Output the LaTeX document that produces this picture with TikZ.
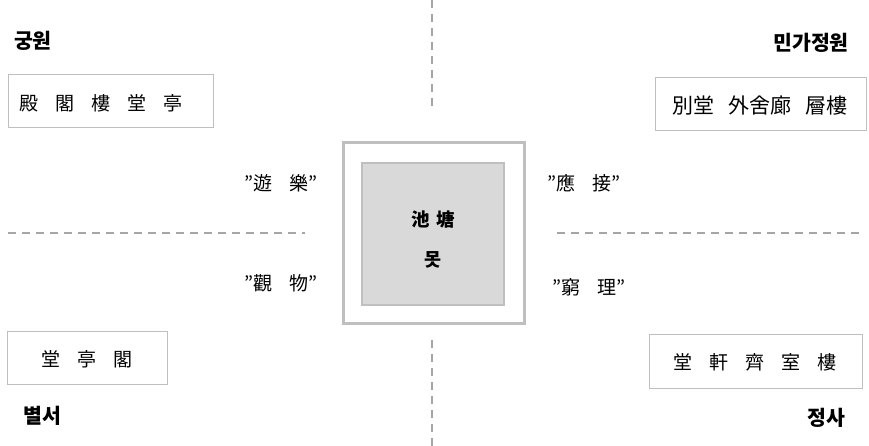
\documentclass[tikz,border=0pt]{standalone}
\usepackage{fontspec}
\setmainfont{Noto Sans CJK KR}
\definecolor{boxgray}{HTML}{BFBFBF}
\definecolor{dashgray}{HTML}{A6A6A6}
\definecolor{pondfill}{HTML}{D9D9D9}
\newcommand{\gp}{\hspace{17pt}}
\tikzset{
  sepline/.style={draw=dashgray, line width=2.2pt, dash pattern=on 8pt off 6pt},
  itembox/.style={draw=boxgray, line width=1pt, fill=white},
  itemtext/.style={font=\fontsize{19}{22}\selectfont, inner sep=0pt, anchor=center},
  title/.style={font=\fontsize{20.5}{24}\selectfont\bfseries, inner sep=0pt},
  quote/.style={font=\fontsize{19}{22}\selectfont, inner sep=0pt},
}
\begin{document}
\begin{tikzpicture}[x=1pt,y=-1pt]
\useasboundingbox (0,0) rectangle (869,446);
% separators
\coordinate (vt1) at (432,0);   \coordinate (vt2) at (432,106);
\coordinate (vb1) at (432,340); \coordinate (vb2) at (432,446);
\coordinate (hl1) at (8,233);   \coordinate (hl2) at (305,233);
\coordinate (hr1) at (557,233); \coordinate (hr2) at (860,233);
\draw[sepline] (vt1) -- (vt2);
\draw[sepline] (vb1) -- (vb2);
\draw[sepline] (hl1) -- (hl2);
\draw[sepline] (hr1) -- (hr2);
% pond
\draw[draw=boxgray, line width=3pt] (343,143) rectangle (524,323);
\draw[draw=boxgray, line width=2pt, fill=pondfill] (362,163) rectangle (504,305);
\node[font=\fontsize{18.5}{21}\selectfont\bfseries, inner sep=0pt] (pond1) at (433,220) {池\hspace{7pt}塘};
\node[font=\fontsize{18.5}{21}\selectfont\bfseries, inner sep=0pt] (pond2) at (433,260) {못};
% quotes
\node[quote] (q1) at (281,183) {"遊\gp 樂"};
\node[quote] (q2) at (281,283) {"觀\gp 物"};
\node[quote] (q3) at (584,183) {"應\gp 接"};
\node[quote] (q4) at (589,287) {"窮\gp 理"};
% boxes
\draw[itembox] (8,75) rectangle (213,128);
\node[itemtext] (t1) at (101,103) {殿\gp 閣\gp 樓\gp 堂\gp 亭};
\draw[itembox] (655,78) rectangle (866,131);
\node[itemtext, font=\fontsize{21}{24}\selectfont] (t2) at (760,106) {別堂\hspace{14pt}外舍廊\hspace{14pt}層樓};
\draw[itembox] (7,331) rectangle (167,384);
\node[itemtext] (t3) at (87,359) {堂\gp 亭\gp 閣};
\draw[itembox] (649,334) rectangle (862,388);
\node[itemtext] (t4) at (755,362) {堂\gp 軒\gp 齊\gp 室\gp 樓};
% titles
\node[title] (k1) at (33,41) {궁원};
\node[title] (k2) at (811,43) {민가정원};
\node[title] (k3) at (42,416) {별서};
\node[title] (k4) at (826,418) {정사};
\end{tikzpicture}
\end{document}
